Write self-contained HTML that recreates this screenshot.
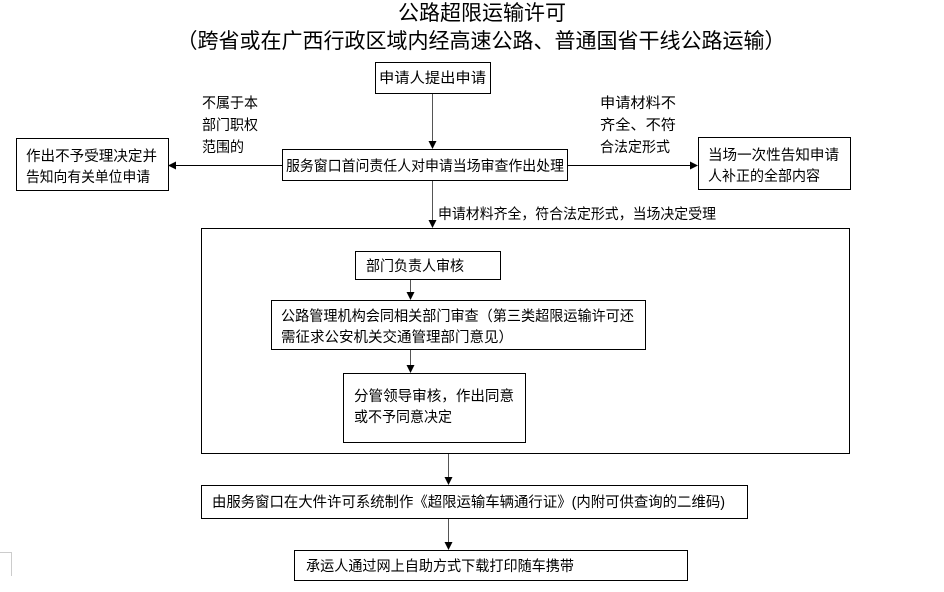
<!DOCTYPE html>
<html><head><meta charset="utf-8"><style>
html,body{margin:0;padding:0;background:#fff;}
svg{display:block;}
text{font-family:"Liberation Sans","Noto Sans CJK SC",sans-serif;fill:#000;}
.b{font-size:14.5px;}
.t{font-size:21px;}
</style></head><body>
<svg width="944" height="592" viewBox="0 0 944 592" xmlns="http://www.w3.org/2000/svg">
<defs>
<marker id="a" markerWidth="8" markerHeight="8" refX="7" refY="4" orient="auto" markerUnits="userSpaceOnUse"><path d="M0,0 L8,4 L0,8 z" fill="#000"/></marker>
</defs>
<text class="t" x="482" y="20" text-anchor="middle">公路超限运输许可</text>
<text class="t" x="481" y="48" text-anchor="middle">（跨省或在广西行政区域内经高速公路、普通国省干线公路运输）</text>
<g fill="none" stroke="#000" stroke-width="1">
<rect x="375.5" y="62.5" width="115" height="31"/>
<rect x="282.5" y="149.5" width="285" height="31"/>
<rect x="16.5" y="138.5" width="152" height="52"/>
<rect x="698.5" y="137.5" width="152" height="52"/>
<rect x="201.5" y="228.5" width="648" height="225"/>
<rect x="355.5" y="251.5" width="145" height="28"/>
<rect x="271.5" y="300.5" width="374" height="49"/>
<rect x="343.5" y="373.5" width="182" height="69"/>
<rect x="201.5" y="485.5" width="546" height="33"/>
<rect x="294.5" y="550.5" width="393" height="30"/>
</g>
<g stroke="#555" stroke-width="1" fill="none" marker-end="url(#a)">
<line x1="432.5" y1="94" x2="432.5" y2="148"/>
<line x1="432.5" y1="181" x2="432.5" y2="227"/>
<line x1="410.5" y1="280" x2="410.5" y2="299"/>
<line x1="410.5" y1="350" x2="410.5" y2="372"/>
<line x1="448.5" y1="454" x2="448.5" y2="484"/>
<line x1="448.5" y1="519" x2="448.5" y2="549"/>
</g>
<g stroke="#000" stroke-width="1" fill="none" marker-end="url(#a)">
<line x1="282" y1="165.5" x2="169" y2="165.5"/>
<line x1="568" y1="165.5" x2="697" y2="165.5"/>
</g>
<path d="M0,552.5 H11.5 V576" stroke="#ccc" fill="none"/>
<text class="b" x="379" y="83" textLength="107" lengthAdjust="spacingAndGlyphs">申请人提出申请</text>
<text class="b" x="286" y="171" textLength="278" lengthAdjust="spacingAndGlyphs">服务窗口首问责任人对申请当场审查作出处理</text>
<text class="b" x="26" y="161" textLength="131" lengthAdjust="spacingAndGlyphs">作出不予受理决定并</text>
<text class="b" x="26" y="182" textLength="124" lengthAdjust="spacingAndGlyphs">告知向有关单位申请</text>
<text class="b" x="708" y="160" textLength="131" lengthAdjust="spacingAndGlyphs">当场一次性告知申请</text>
<text class="b" x="708" y="181" textLength="112" lengthAdjust="spacingAndGlyphs">人补正的全部内容</text>
<text class="b" x="202" y="108" textLength="56" lengthAdjust="spacingAndGlyphs">不属于本</text>
<text class="b" x="202" y="130" textLength="56" lengthAdjust="spacingAndGlyphs">部门职权</text>
<text class="b" x="202" y="152" textLength="42" lengthAdjust="spacingAndGlyphs">范围的</text>
<text class="b" x="600" y="108" textLength="76" lengthAdjust="spacingAndGlyphs">申请材料不</text>
<text class="b" x="600" y="130" textLength="76" lengthAdjust="spacingAndGlyphs">齐全、不符</text>
<text class="b" x="600" y="152" textLength="70" lengthAdjust="spacingAndGlyphs">合法定形式</text>
<text class="b" x="438" y="219" textLength="278" lengthAdjust="spacingAndGlyphs">申请材料齐全，符合法定形式，当场决定受理</text>
<text class="b" x="366" y="271" textLength="98" lengthAdjust="spacingAndGlyphs">部门负责人审核</text>
<text class="b" x="281" y="321" textLength="353" lengthAdjust="spacingAndGlyphs">公路管理机构会同相关部门审查（第三类超限运输许可还</text>
<text class="b" x="281" y="342" textLength="232" lengthAdjust="spacingAndGlyphs">需征求公安机关交通管理部门意见）</text>
<text class="b" x="354" y="401" textLength="160" lengthAdjust="spacingAndGlyphs">分管领导审核，作出同意</text>
<text class="b" x="354" y="422" textLength="98" lengthAdjust="spacingAndGlyphs">或不予同意决定</text>
<text class="b" x="212" y="507" textLength="513" lengthAdjust="spacingAndGlyphs">由服务窗口在大件许可系统制作《超限运输车辆通行证》(内附可供查询的二维码)</text>
<text class="b" x="306" y="571" textLength="268" lengthAdjust="spacingAndGlyphs">承运人通过网上自助方式下载打印随车携带</text>
</svg>
</body></html>
